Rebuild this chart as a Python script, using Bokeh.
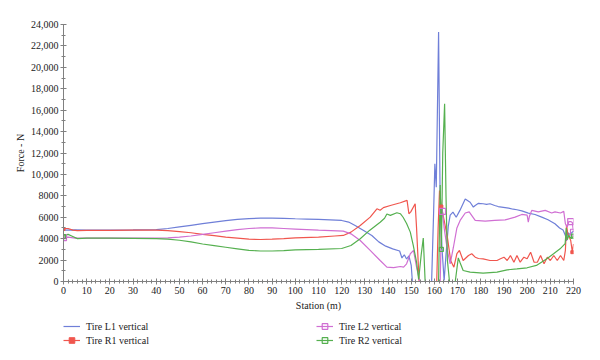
import numpy as np
from bokeh.plotting import figure
from bokeh.layouts import column
from bokeh.models import (Legend, LegendItem, SingleIntervalTicker, Range1d)
from bokeh.embed import file_html
from bokeh.resources import INLINE

# ---------------- data ----------------
L1_X = [0, 5, 10, 20, 30, 40, 45, 50, 55, 60, 65, 70, 75, 80, 85, 90, 95, 100, 105, 110,
        115, 120, 123, 126, 130, 133, 136, 139, 142, 145, 146, 147, 148, 149, 150, 150.5,
        158.8, 159.6, 160.2, 160.8, 161.8, 162.5, 163.3, 164.2, 165, 166, 166.8, 168, 169.4,
        171, 173.3, 175.4, 176.8, 177.6, 179, 181, 182.5, 184, 186, 187.5, 189, 190.5, 192,
        194, 195.6, 197.7, 200.5, 203.4, 206.3, 209, 212, 214, 215.5, 216.5, 217, 217.5, 218,
        219, 220]
L1_Y = [4800, 4820, 4800, 4800, 4820, 4850, 4950, 5100, 5250, 5400, 5550, 5680, 5800, 5880,
        5920, 5920, 5900, 5860, 5830, 5800, 5760, 5700, 5550, 5200, 4700, 4300, 3700, 3300,
        3050, 2850, 2200, 2500, 2100, 2400, 1500, 0,
        0, 6000, 11000, 8800, 23300, 7000, 3000, 100, 2500, 5200, 6200, 6480, 6000,
        6640, 7700, 7400, 6950, 7100, 7300, 7260, 7200, 7260, 7100, 7000, 6950, 6900, 6850,
        6750, 6700, 6600, 6390, 6260, 6010, 5760, 5390, 5000, 4800, 4300, 3800, 4600, 4400,
        4500, 4700]

R1_X = [0, 1, 2, 4, 6, 10, 20, 30, 40, 45, 50, 55, 60, 65, 70, 75, 80, 85, 90, 95, 100, 110,
        117, 120.7, 124, 128, 132.3, 135.2, 136.6, 138, 141, 145.3, 148.2, 149, 149.8, 151.7,
        152.3, 153.4, 161, 161.6, 162.2, 163, 164.2, 165.6, 167, 168.4, 169.7, 170.8, 172.4,
        174.7, 176.1, 177.6, 179, 181, 184, 187, 188.5, 190, 191.4, 192.8, 194.3, 195.6, 197,
        198.6, 200, 201.5, 203, 204.4, 205.8, 207.3, 208.7, 210, 211.5, 213, 214.4, 215.8,
        216.5, 217, 217.5, 218.8, 219.5, 220]
R1_Y = [4900, 4950, 4950, 4800, 4750, 4780, 4780, 4800, 4800, 4750, 4650, 4550, 4400, 4280,
        4150, 4050, 3950, 3920, 3950, 4000, 4080, 4150, 4250, 4300, 4610, 5230, 6010, 6790,
        6650, 6900, 7100, 7350, 7570, 6330, 6500, 7260, 5000, 0, 0, 5000, 8500, 7000, 5700,
        4140, 1960, 1340, 2600, 2900, 1960, 2430, 2590, 2270, 2150, 2120, 1960, 1960, 2120,
        2270, 1960, 2430, 1800, 2430, 1800, 2270, 2120, 2740, 1800, 1800, 2430, 1650, 2270,
        1960, 2430, 1960, 2430, 1960, 2900, 5300, 4500, 3830, 2740, 3500]

L2_X = [0, 2, 5, 10, 20, 30, 40, 45, 50, 55, 60, 65, 70, 75, 80, 85, 90, 95, 100, 110,
        120.7, 124, 128, 132.3, 136.6, 139.5, 142.4, 145.3, 146.7, 148, 149.6, 151, 152.3,
        153.7, 162.5, 163.2, 164.2, 165.6, 166.8, 168.2, 169.7, 171.1, 173.3, 175, 177.6,
        181.9, 186, 190.5, 194.8, 197.7, 200, 200.5, 201, 202, 204.8, 207.8, 210.6, 212,
        214.4, 215.8, 216.5, 217.3, 218, 218.8, 219.5, 220]
L2_Y = [4100, 4150, 4050, 4050, 4050, 4050, 4050, 4080, 4150, 4250, 4400, 4550, 4700, 4850,
        4950, 5000, 5000, 4950, 4900, 4800, 4700, 4450, 3830, 2900, 1960, 1340, 1300, 1400,
        1350, 1650, 2590, 2900, 1340, 0, 0, 7200, 5000, 2900, 1650, 3200, 5000, 5700, 6400,
        6500, 5700, 5640, 5700, 5760, 6010, 6260, 6200, 5540, 6100, 6640, 6500, 6640, 6400,
        6500, 6400, 6550, 5390, 5070, 5600, 5600, 5500, 4600]

R2_X = [0, 1, 2, 4, 6, 10, 20, 30, 40, 45, 50, 55, 60, 65, 70, 75, 80, 85, 90, 95, 100, 110,
        120, 124, 128, 132, 136.6, 138.5, 139.5, 141, 143.8, 145.3, 146.5, 148, 149.6, 150.9,
        152.3, 153.2, 154.3, 155.2, 156, 161.8, 162.5, 163, 163.6, 164.4, 165, 165.6, 166.5,
        169, 170.3, 171, 172.4, 175.4, 181, 187, 191.4, 195.6, 200, 204, 208.5, 211.4, 214.2,
        216.4, 216.9, 217.3, 218, 219, 220]
R2_Y = [4200, 4350, 4400, 4200, 4000, 4050, 4050, 4030, 4000, 3950, 3850, 3700, 3500, 3350,
        3200, 3050, 2900, 2850, 2850, 2880, 2950, 3000, 3080, 3360, 3990, 4770, 5540, 5900,
        6300, 6170, 6420, 6330, 6000, 5420, 4610, 3360, 1800, 200, 2500, 4050, 0, 0, 9000,
        3000, 12000, 16600, 8000, 2000, 0, 0, 2200, 1800, 1030, 870, 780, 870, 1090, 1180,
        1280, 1500, 2120, 2590, 3050, 3540, 5000, 3900, 4300, 4000, 4240]

# stations where the exported chart shows its data-point markers
R1_MARK = [0, 163, 219.5]
L2_MARK = [0, 163.5, 218.8, 220]
R2_MARK = [0, 163, 220]

NAMES = ["Tire L1 vertical", "Tire R1 vertical", "Tire L2 vertical", "Tire R2 vertical"]
COLORS = ["#6f7fd8", "#f0564e", "#d06fd3", "#55b04f"]

Y_TICK_LABELS = {0: "0", 2000: "2000", 4000: "4000", 6000: "6000", 8000: "8000",
                 10000: "10,000", 12000: "12,000", 14000: "14,000", 16000: "16,000",
                 18000: "18,000", 20000: "20,000", 22000: "22,000", 24000: "24,000"}

FONT = "Liberation Serif"

p = figure(frame_width=510, frame_height=257, output_backend="svg", toolbar_location=None,
           x_range=Range1d(0, 220), y_range=Range1d(0, 24000),
           min_border_left=63, min_border_right=19, min_border_top=24, min_border_bottom=38)
p.outline_line_color = None
p.grid.visible = False
p.background_fill_color = "white"

p.xaxis.ticker = SingleIntervalTicker(interval=10, num_minor_ticks=5)
p.yaxis.ticker = SingleIntervalTicker(interval=2000, num_minor_ticks=2)
p.yaxis.major_label_overrides = Y_TICK_LABELS
p.xaxis.axis_label = "Station (m)"
p.yaxis.axis_label = "Force - N"
for ax in (p.xaxis, p.yaxis):
    ax.axis_line_color = "#808080"
    ax.major_tick_line_color = "#808080"
    ax.minor_tick_line_color = "#808080"
    ax.major_tick_in = 3
    ax.major_tick_out = 3
    ax.minor_tick_in = 2
    ax.minor_tick_out = 2
    ax.major_label_text_font = FONT
    ax.major_label_text_font_size = "10px"
    ax.major_label_text_color = "#222222"
    ax.axis_label_text_font = FONT
    ax.axis_label_text_font_size = "10px"
    ax.axis_label_text_font_style = "normal"
    ax.axis_label_text_color = "#222222"
p.xaxis.major_label_standoff = 2
p.xaxis.axis_label_standoff = 3
p.yaxis.major_label_standoff = 2
p.yaxis.axis_label_standoff = 2

xs = [L1_X, R1_X, L2_X, R2_X]
ys = [L1_Y, R1_Y, L2_Y, R2_Y]
for x, y, c in zip(xs, ys, COLORS):
    p.line(x, y, line_color=c, line_width=1.2)

p.scatter(R1_MARK, np.interp(R1_MARK, R1_X, R1_Y), marker="square", size=3,
          fill_color=COLORS[1], line_color=COLORS[1])
p.scatter(L2_MARK, np.interp(L2_MARK, L2_X, L2_Y), marker="square", size=6,
          fill_color=None, line_color=COLORS[2], line_width=1.2)
p.scatter(R2_MARK, np.interp(R2_MARK, R2_X, R2_Y), marker="square", size=4,
          fill_color=None, line_color=COLORS[3], line_width=1.2)

# ---- legend strip (separate figure; its renderers hold only a NaN, for legend styling) ----
lg = figure(width=592, height=30, output_backend="svg", toolbar_location=None,
            x_axis_location=None, y_axis_location=None, min_border=0,
            x_range=Range1d(0, 1), y_range=Range1d(0, 1))
lg.outline_line_color = None
lg.grid.visible = False

NAN = [float("nan")]
leg_lines = [lg.line(NAN, NAN, line_color=c, line_width=1.2) for c in COLORS]
leg_r1 = lg.scatter(NAN, NAN, marker="square", size=3, fill_color=COLORS[1],
                    line_color=COLORS[1])
leg_l2 = lg.scatter(NAN, NAN, marker="square", size=6, fill_color=None,
                    line_color=COLORS[2], line_width=1.2)
leg_r2 = lg.scatter(NAN, NAN, marker="square", size=4, fill_color=None,
                    line_color=COLORS[3], line_width=1.2)

legend_style = dict(orientation="horizontal", margin=0, padding=0,
                    spacing=0, glyph_width=17, glyph_height=14, label_height=14,
                    label_width=230, label_standoff=6,
                    border_line_color=None, background_fill_alpha=0,
                    label_text_font=FONT, label_text_font_size="10px",
                    label_text_color="#222222")
legend_top = Legend(items=[LegendItem(label=NAMES[0], renderers=[leg_lines[0]], index=0),
                           LegendItem(label=NAMES[2], renderers=[leg_lines[2], leg_l2], index=0)],
                    location=(0, 16), **legend_style)
legend_bot = Legend(items=[LegendItem(label=NAMES[1], renderers=[leg_lines[1], leg_r1], index=0),
                           LegendItem(label=NAMES[3], renderers=[leg_lines[3], leg_r2], index=0)],
                    location=(0, 2), **legend_style)
lg.add_layout(legend_top, "center")
lg.add_layout(legend_bot, "center")

layout = column(p, lg, spacing=0)
open("out.html", "w").write(file_html(layout, INLINE))
